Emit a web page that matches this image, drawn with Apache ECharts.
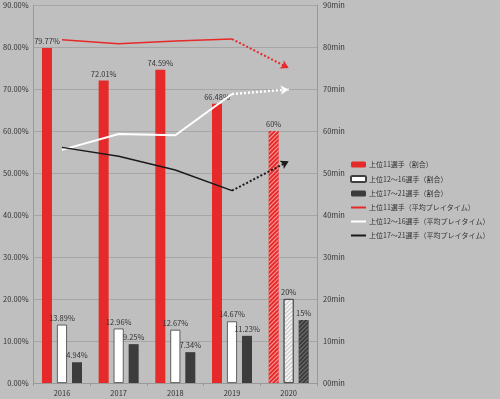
<!DOCTYPE html>
<html>
<head>
<meta charset="utf-8">
<script src="https://cdn.jsdelivr.net/npm/echarts@6/dist/echarts.min.js"></script>
<style>
  html, body { margin: 0; padding: 0; background: #bfbfbf; }
  #chart { width: 500px; height: 399px; }
</style>
</head>
<body>
<div id="chart"></div>
<script>
// 年度
var years = ['2016', '2017', '2018', '2019', '2020'];
// 割合（%）
var top11Share = [79.77, 72.01, 74.59, 66.48, 60];
var top12to16Share = [13.89, 12.96, 12.67, 14.67, 20];
var top17to21Share = [4.94, 9.25, 7.34, 11.23, 15];
// 平均プレイタイム（min）2016-2019 実績
var top11Time = [81.7, 80.8, 81.4, 81.9];
var top12to16Time = [55.5, 59.3, 59.0, 68.8];
var top17to21Time = [56.1, 54.0, 50.7, 45.8];
// 2020 予測（矢印の先）
var top11Forecast = 75.0;
var top12to16Forecast = 69.9;
var top17to21Forecast = 52.8;

var seriesNames = [
  '上位11選手（割合）',
  '上位12～16選手（割合）',
  '上位17～21選手（割合）',
  '上位11選手（平均プレイタイム）',
  '上位12～16選手（平均プレイタイム）',
  '上位17～21選手（平均プレイタイム）'
];

var RED = '#e62a2a';
var DARK = '#3c3c3c';
var TXT = '#333333';
var FONT = 'Noto Sans CJK JP';

// 2020年は斜線（予測）
function barData(values, decalColor, baseColor) {
  return values.map(function(v, i) {
    if (i === values.length - 1) {
      return {
        value: v,
        itemStyle: {
          color: baseColor,
          decal: {
            symbol: 'rect',
            color: decalColor,
            dashArrayX: [1, 0],
            dashArrayY: [1, 2],
            rotation: -Math.PI / 4,
            symbolSize: 1
          }
        }
      };
    }
    return v;
  });
}

function barLabel() {
  return {
    show: true,
    position: 'top',
    distance: 3,
    fontSize: 7.5,
    fontFamily: FONT,
    color: TXT,
    formatter: function(p) { return p.value + '%'; }
  };
}

function forecastLine(name, values, forecast, color, width) {
  var last = values.length - 1;
  return {
    name: name,
    type: 'line',
    yAxisIndex: 1,
    data: values,
    symbol: 'none',
    showSymbol: false,
    lineStyle: { color: color, width: width },
    itemStyle: { color: color },
    z: 5,
    markLine: {
      silent: true,
      symbol: ['none', 'arrow'],
      symbolSize: [7, 8],
      label: { show: false },
      lineStyle: { color: color, width: width + 0.5, type: [2, 2] },
      data: [[
        { coord: [years[last], values[last]] },
        { coord: [years[years.length - 1], forecast] }
      ]]
    }
  };
}

// 凡例：線の系列はマーカーなし
var legendData = seriesNames.map(function(n, i) {
  if (i < 3) return n;
  return { name: n, itemStyle: { opacity: 0 } };
});

var chart = echarts.init(document.getElementById('chart'));
chart.setOption({
  backgroundColor: '#bfbfbf',
  animation: false,
  textStyle: { fontFamily: FONT },
  grid: { left: 33, right: 183, top: 5, bottom: 16 },
  legend: {
    orient: 'vertical',
    left: 350,
    top: 161,
    padding: 0,
    itemWidth: 15,
    itemHeight: 6,
    itemGap: 7,
    textStyle: { fontSize: 7, color: TXT, fontFamily: FONT, padding: [0, 0, 0, -2] },
    data: legendData
  },
  xAxis: {
    type: 'category',
    data: years,
    axisLine: { lineStyle: { color: '#999999' } },
    axisTick: { show: true, length: 3, lineStyle: { color: '#999999' } },
    axisLabel: { fontSize: 7.5, color: TXT, margin: 6 }
  },
  yAxis: [{
    type: 'value',
    min: 0,
    max: 90,
    interval: 10,
    axisLine: { show: true, lineStyle: { color: '#999999' } },
    axisLabel: {
      fontSize: 7.5, color: TXT, margin: 5,
      formatter: function(v) { return v.toFixed(2) + '%'; }
    },
    splitLine: { lineStyle: { color: '#a6a6a6' } }
  }, {
    type: 'value',
    min: 0,
    max: 90,
    interval: 10,
    position: 'right',
    axisLine: { show: true, lineStyle: { color: '#999999' } },
    axisLabel: {
      fontSize: 7.5, color: TXT, margin: 6,
      formatter: function(v) { return (v === 0 ? '00' : v) + 'min'; }
    },
    splitLine: { show: false }
  }],
  series: [{
    name: seriesNames[0],
    type: 'bar',
    barWidth: 10,
    barGap: '50%',
    data: barData(top11Share, 'rgba(255,170,170,0.9)', RED),
    itemStyle: { color: RED },
    label: barLabel()
  }, {
    name: seriesNames[1],
    type: 'bar',
    barWidth: 10,
    data: barData(top12to16Share, 'rgba(190,190,190,0.9)', '#f4f4f4'),
    itemStyle: { color: '#ffffff', borderColor: '#404040', borderWidth: 0.8 },
    label: barLabel()
  }, {
    name: seriesNames[2],
    type: 'bar',
    barWidth: 10,
    data: barData(top17to21Share, 'rgba(120,120,120,0.9)', DARK),
    itemStyle: { color: DARK },
    label: barLabel()
  },
  forecastLine(seriesNames[3], top11Time, top11Forecast, RED, 1.5),
  forecastLine(seriesNames[4], top12to16Time, top12to16Forecast, '#ffffff', 2),
  forecastLine(seriesNames[5], top17to21Time, top17to21Forecast, '#1a1a1a', 1.5)
  ]
});
</script>
</body>
</html>
